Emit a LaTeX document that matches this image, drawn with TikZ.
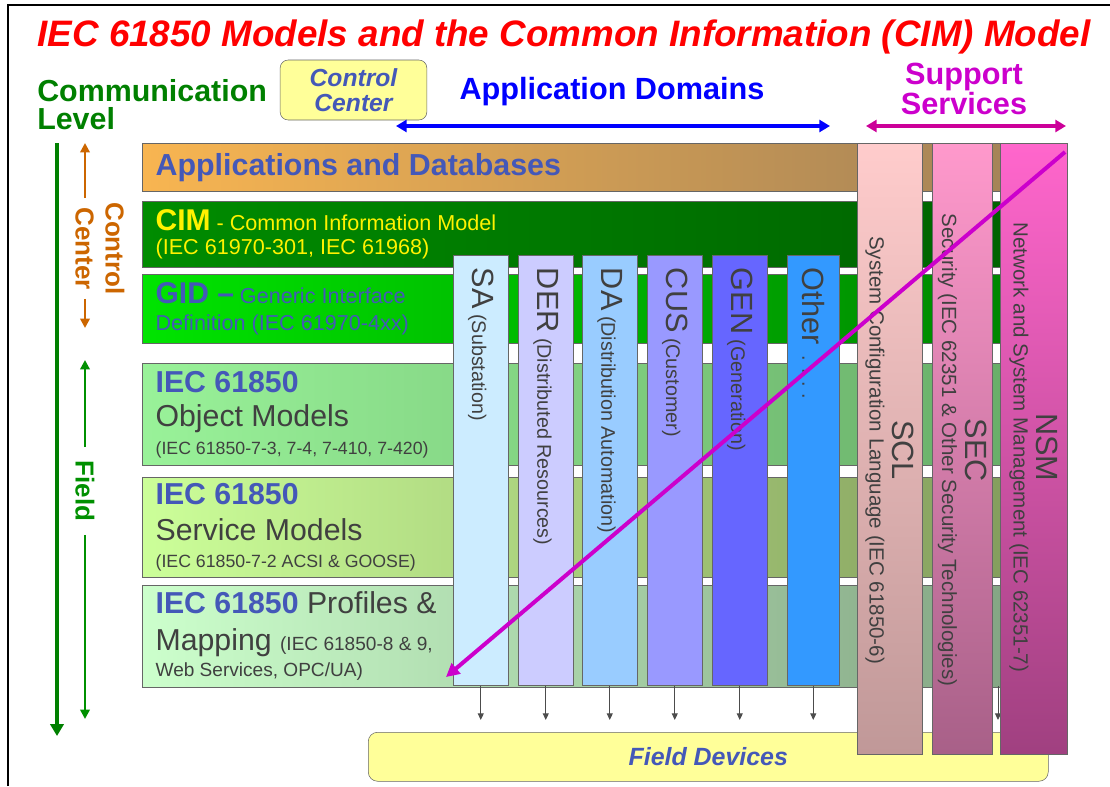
\documentclass[tikz,border=0pt]{standalone}
\usepackage{fontspec}
\setmainfont{Liberation Sans}
\usetikzlibrary{arrows.meta}

\definecolor{titlered}{HTML}{FF0000}
\definecolor{levgreen}{HTML}{008000}
\definecolor{fieldgreen}{HTML}{009000}
\definecolor{ccorange}{HTML}{CC6600}
\definecolor{domblue}{HTML}{0000FF}
\definecolor{supmag}{HTML}{CC00CC}
\definecolor{suparrow}{HTML}{CC0099}
\definecolor{txtblue}{HTML}{4458B8}
\definecolor{txtgray}{HTML}{404040}
\definecolor{boxyellow}{HTML}{FFFF99}
\newcommand\bigtagfont{\fontsize{23}{23}\selectfont}

\tikzset{
  layer/.style={draw=black!60, anchor=north west, text width=668.5pt, inner xsep=10pt, inner ysep=0pt, align=flush left, text=txtgray},
  domcol/.style={draw=black!60, anchor=north west, minimum width=41.25pt, minimum height=322.5pt, inner sep=0pt},
  domtxt/.style={rotate=-90, anchor=west, text=txtgray, font=\fontsize{14.8}{17}\selectfont, inner sep=0pt},
  supcol/.style={draw=black!60, anchor=north west, minimum height=458.25pt, inner sep=0pt},
  suptxt/.style={rotate=-90, align=flush center, text=txtgray, font=\fontsize{15.4}{17.5}\selectfont},
  colarrow/.style={draw=black!70, line width=0.7pt, -{Triangle[length=5pt,width=4.5pt]}},
  bigarrow/.style={line width=3pt, {Triangle[length=8pt,width=9pt]}-{Triangle[length=8pt,width=9pt]}},
  sidearrow/.style={line width=2pt, -{Triangle[length=7pt,width=7pt]}},
}

\begin{document}
\begin{tikzpicture}[x=0.75pt, y=-0.75pt]
	%%%%% START %%%%%
	\useasboundingbox (0,0) rectangle (1110,786);
	\draw[line width=1.6pt] (8,786) -- (8,5) -- (1110,5);

	\node[font=\bfseries\itshape\fontsize{27.6}{30}\selectfont, text=titlered] (title) at (564,37) {IEC 61850 Models and the Common Information (CIM) Model};

	\node[anchor=west, align=flush left, text=levgreen, font=\bfseries\fontsize{22.8}{21}\selectfont, inner sep=0pt] (commlev) at (37,105) {Communication\\Level};
	\node[draw=black!60, rounded corners=6pt, fill=boxyellow, minimum width=110pt, minimum height=45pt, align=flush center, text=txtblue, font=\bfseries\itshape\fontsize{18.5}{18.5}\selectfont] (ccbox) at (353.5,90) {Control\\Center};
	\node[text=domblue, font=\bfseries\fontsize{23}{24}\selectfont] (appdom) at (612,92) {Application Domains};
	\node[align=flush center, text=supmag, font=\bfseries\fontsize{23}{23}\selectfont] (support) at (964,89) {Support\\Services};

	\coordinate (domleft) at (396,126);
	\coordinate (domright) at (830,126);
	\draw[bigarrow, domblue] (domleft) -- (domright);
	\coordinate (supleft) at (866,126);
	\coordinate (supright) at (1066,126);
	\draw[bigarrow, suparrow] (supleft) -- (supright);

	% communication level arrows on the left
	\coordinate (levtop) at (57,143);
	\coordinate (levbot) at (57,736);
	\draw[line width=3pt, levgreen, -{Triangle[length=9pt,width=10pt]}] (levtop) -- (levbot);

	\node[rotate=-90, align=flush center, text=ccorange, inner xsep=3pt, font=\bfseries\fontsize{19.5}{22.5}\selectfont] (ccside) at (100,248.5) {Control\\Center};
	\coordinate (cctop) at (85,143);
	\coordinate (ccbot) at (85,328);
	\draw[sidearrow, ccorange] (cctop |- ccside.west) -- (cctop);
	\draw[sidearrow, ccorange] (ccbot |- ccside.east) -- (ccbot);

	\node[rotate=-90, text=fieldgreen, inner xsep=10pt, font=\bfseries\fontsize{19.5}{22}\selectfont] (fieldside) at (85,491) {Field};
	\coordinate (fldtop) at (85,360);
	\coordinate (fldbot) at (85,719);
	\draw[sidearrow, fieldgreen] (fieldside.west) -- (fldtop);
	\draw[sidearrow, fieldgreen] (fieldside.east) -- (fldbot);

	% layers
	\node[layer, minimum height=36pt, left color={rgb,255:red,248;green,181;blue,81}, right color={rgb,255:red,160;green,128;blue,88}, font=\bfseries\fontsize{22.8}{24}\selectfont, text=txtblue] (appdb) at (142,143) {Applications and Databases};
	\node[layer, minimum height=49.5pt, left color={rgb,255:red,0;green,140;blue,0}, right color={rgb,255:red,0;green,96;blue,0}, text=yellow, font=\fontsize{16.2}{18.5}\selectfont] (cim) at (142,201) {{\bfseries\fontsize{22.5}{22.5}\selectfont CIM} - Common Information Model\\(IEC 61970-301, IEC 61968)};
	\node[layer, minimum height=51.75pt, left color={rgb,255:red,0;green,228;blue,0}, right color={rgb,255:red,0;green,128;blue,0}, text=txtblue, font=\fontsize{16.2}{20}\selectfont] (gid) at (142,274) {{\bfseries\fontsize{22.5}{22.5}\selectfont GID --} Generic Interface\\Definition (IEC 61970-4xx)};
	\node[layer, minimum height=76.5pt, left color={rgb,255:red,153;green,242;blue,153}, right color={rgb,255:red,102;green,170;blue,102}, font=\fontsize{22.7}{25.5}\selectfont] (objm) at (142,363) {{\bfseries\color{txtblue}IEC 61850}\\Object Models\\[-4.5pt]{\fontsize{13.3}{14}\selectfont (IEC 61850-7-3, 7-4, 7-410, 7-420)}};
	\node[layer, minimum height=75pt, left color={rgb,255:red,204;green,255;blue,153}, right color={rgb,255:red,128;green,152;blue,90}, font=\fontsize{22.7}{27}\selectfont] (servm) at (142,477) {{\bfseries\color{txtblue}IEC 61850}\\Service Models\\[-6.5pt]{\fontsize{13.3}{14}\selectfont (IEC 61850-7-2 ACSI \& GOOSE)}};
	\node[layer, minimum height=76.5pt, left color={rgb,255:red,204;green,255;blue,204}, right color={rgb,255:red,128;green,160;blue,128}, font=\fontsize{22.7}{27.5}\selectfont] (profm) at (142,585) {{\bfseries\color{txtblue}IEC 61850} Profiles \&\\Mapping {\fontsize{14.3}{16}\selectfont (IEC 61850-8 \& 9,}\\[-7.5pt]{\fontsize{14.3}{16}\selectfont Web Services, OPC/UA)}};

	% application domains
	\node[domcol, fill={rgb,255:red,204;green,236;blue,255}] (sa) at (453,255) {};
	\node[domcol, fill={rgb,255:red,204;green,204;blue,255}] (der) at (518,255) {};
	\node[domcol, fill={rgb,255:red,153;green,204;blue,255}] (da) at (582,255) {};
	\node[domcol, fill={rgb,255:red,153;green,153;blue,255}] (cus) at (647,255) {};
	\node[domcol, fill={rgb,255:red,102;green,102;blue,255}] (gen) at (712,255) {};
	\node[domcol, minimum width=39pt, fill={rgb,255:red,51;green,153;blue,255}] (oth) at (787,255) {};

	\node[domtxt] (satxt) at ([yshift=-9.5pt]sa.north) {{\bigtagfont SA} (Substation)};
	\node[domtxt] (dertxt) at ([yshift=-9.5pt]der.north) {{\bigtagfont DER} (Distributed Resources)};
	\node[domtxt] (datxt) at ([yshift=-9.5pt]da.north) {{\bigtagfont DA} (Distribution Automation)};
	\node[domtxt] (custxt) at ([yshift=-9.5pt]cus.north) {{\bigtagfont CUS} (Customer)};
	\node[domtxt] (gentxt) at ([yshift=-9.5pt]gen.north) {{\bigtagfont GEN} (Generation)};
	\node[domtxt] (othtxt) at ([yshift=-9.5pt]oth.north) {{\bigtagfont Other} \ . . . .};

	% arrows down to the field devices
	\coordinate (fdarr) at (0,720);
	\coordinate (nsmfoot) at (998,686);
	\draw[colarrow] (sa.south) -- (sa.south |- fdarr);
	\draw[colarrow] (der.south) -- (der.south |- fdarr);
	\draw[colarrow] (da.south) -- (da.south |- fdarr);
	\draw[colarrow] (cus.south) -- (cus.south |- fdarr);
	\draw[colarrow] (gen.south) -- (gen.south |- fdarr);
	\draw[colarrow] (oth.south) -- (oth.south |- fdarr);
	\draw[colarrow] (nsmfoot) -- (nsmfoot |- fdarr);

	\node[draw=black!60, rounded corners=7pt, fill=boxyellow, anchor=north west, minimum width=510pt, minimum height=36.75pt, text=txtblue, font=\bfseries\itshape\fontsize{18.7}{20}\selectfont] (field) at (368,732) {Field Devices};

	% support services
	\node[supcol, minimum width=48.75pt, top color={rgb,255:red,255;green,204;blue,204}, bottom color={rgb,255:red,192;green,152;blue,152}] (scl) at (857,143) {};
	\node[supcol, minimum width=45pt, top color={rgb,255:red,255;green,153;blue,204}, bottom color={rgb,255:red,168;green,96;blue,136}] (sec) at (932,143) {};
	\node[supcol, minimum width=50.25pt, top color={rgb,255:red,255;green,102;blue,204}, bottom color={rgb,255:red,160;green,64;blue,128}] (nsm) at (1000,143) {};

	\node[suptxt] (scltxt) at ([yshift=-1pt]scl.center) {{\bigtagfont SCL}\\System Configuration Language (IEC 61850-6)};
	\node[suptxt] (sectxt) at ([yshift=-1pt]sec.center) {{\bigtagfont SEC}\\Security (IEC 62351 \& Other Security Technologies)};
	\node[suptxt] (nsmtxt) at ([yshift=1pt]nsm.center) {{\bigtagfont NSM}\\Network and System Management (IEC 62351-7)};

	% mapping onto the profiles
	\coordinate (diagtop) at (1065,152);
	\coordinate (diagbot) at (446,677);
	\draw[line width=3pt, supmag, -{Triangle[length=10pt,width=10pt]}] (diagtop) -- (diagbot);
	%%%%% END %%%%%
\end{tikzpicture}
\end{document}
